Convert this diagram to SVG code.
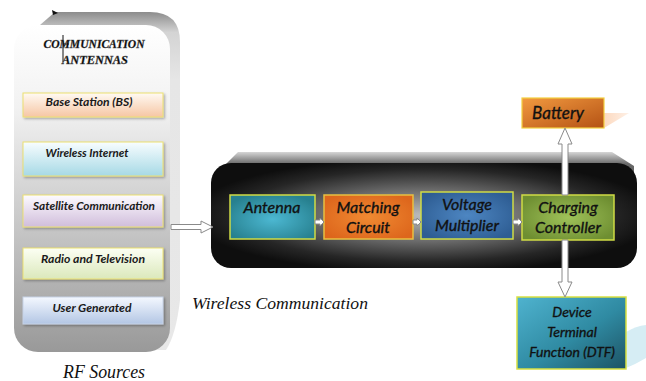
<svg xmlns="http://www.w3.org/2000/svg" width="646" height="381" viewBox="0 0 646 381">
<defs>
  <linearGradient id="panelFront" x1="0" y1="0" x2="0" y2="1">
    <stop offset="0" stop-color="#ffffff"/>
    <stop offset="0.25" stop-color="#f2f2f2"/>
    <stop offset="0.6" stop-color="#c9c9c9"/>
    <stop offset="1" stop-color="#999999"/>
  </linearGradient>
  <linearGradient id="panelBack" x1="0" y1="0" x2="0" y2="1">
    <stop offset="0" stop-color="#8c8c8c"/>
    <stop offset="0.06" stop-color="#d4d4d4"/>
    <stop offset="0.2" stop-color="#e6e6e6"/>
    <stop offset="1" stop-color="#e8e8e8"/>
  </linearGradient>
  <radialGradient id="darkFront" cx="0.5" cy="0.5" r="0.55">
    <stop offset="0" stop-color="#bdbdbd"/>
    <stop offset="0.45" stop-color="#6a6a6a"/>
    <stop offset="0.8" stop-color="#262626"/>
    <stop offset="1" stop-color="#0e0e0e"/>
  </radialGradient>
  <linearGradient id="darkBack" x1="0" y1="0" x2="0" y2="1">
    <stop offset="0" stop-color="#d6d6d6"/>
    <stop offset="0.12" stop-color="#6a6a6a"/>
    <stop offset="1" stop-color="#222"/>
  </linearGradient>
  <linearGradient id="gBS" x1="0" y1="0" x2="0" y2="1">
    <stop offset="0" stop-color="#fffaf3"/><stop offset="1" stop-color="#f6c6a4"/>
  </linearGradient>
  <linearGradient id="gWI" x1="0" y1="0" x2="0" y2="1">
    <stop offset="0" stop-color="#f8fdff"/><stop offset="1" stop-color="#a6d9e5"/>
  </linearGradient>
  <linearGradient id="gSC" x1="0" y1="0" x2="0" y2="1">
    <stop offset="0" stop-color="#fdfbff"/><stop offset="1" stop-color="#d0bddb"/>
  </linearGradient>
  <linearGradient id="gRT" x1="0" y1="0" x2="0" y2="1">
    <stop offset="0" stop-color="#fcfff4"/><stop offset="1" stop-color="#dbe8bb"/>
  </linearGradient>
  <linearGradient id="gUG" x1="0" y1="0" x2="0" y2="1">
    <stop offset="0" stop-color="#f4f8ff"/><stop offset="1" stop-color="#b3c6e4"/>
  </linearGradient>
  <radialGradient id="gAnt" cx="0.5" cy="0.55" r="0.6">
    <stop offset="0" stop-color="#4cb8d2"/><stop offset="1" stop-color="#27808f"/>
  </radialGradient>
  <radialGradient id="gMat" cx="0.5" cy="0.5" r="0.6">
    <stop offset="0" stop-color="#f08a32"/><stop offset="1" stop-color="#dd661c"/>
  </radialGradient>
  <radialGradient id="gVol" cx="0.5" cy="0.5" r="0.6">
    <stop offset="0" stop-color="#4d86c2"/><stop offset="1" stop-color="#2e5d93"/>
  </radialGradient>
  <radialGradient id="gChg" cx="0.5" cy="0.5" r="0.6">
    <stop offset="0" stop-color="#9fc259"/><stop offset="1" stop-color="#6e8e31"/>
  </radialGradient>
  <linearGradient id="gBat" x1="0" y1="0" x2="1" y2="1">
    <stop offset="0" stop-color="#f29a40"/><stop offset="1" stop-color="#b45214"/>
  </linearGradient>
  <linearGradient id="gDTF" x1="0" y1="0" x2="1" y2="1">
    <stop offset="0" stop-color="#4fb3cf"/><stop offset="0.55" stop-color="#2f8aa2"/><stop offset="1" stop-color="#1d5364"/>
  </linearGradient>
  <linearGradient id="gPeach" x1="0" y1="0" x2="1" y2="0">
    <stop offset="0" stop-color="#fcd9bf"/><stop offset="1" stop-color="#fef0e6"/>
  </linearGradient>
  <filter id="sh" x="-10%" y="-10%" width="130%" height="140%">
    <feDropShadow dx="1.5" dy="1.5" stdDeviation="0.8" flood-color="#000" flood-opacity="0.3"/>
  </filter>
</defs>
<style>
  .src { stroke: #ece070; stroke-width: 1; filter: url(#sh); }
  .srcT { font-family: Lato, "Liberation Sans", sans-serif; font-weight: bold; font-style: italic; font-size: 11px; fill: #1a1a1a; text-anchor: middle; }
  .blk { stroke: #cfdc45; stroke-width: 1.5; }
  .blkT { font-family: Lato, "Liberation Sans", sans-serif; font-style: italic; font-size: 16px; fill: #111; stroke: #111; stroke-width: 0.35; text-anchor: middle; }
  .ttl { font-family: "Liberation Serif", serif; font-weight: bold; font-style: italic; font-size: 13px; fill: #000; stroke: #555; stroke-width: 0.4; text-anchor: middle; }
  .arr { fill: #ffffff; stroke: #8a8a8a; stroke-width: 1; }
</style>

<!-- Left panel: RF sources -->
<g id="rf-panel">
  <path d="M40,25 L55,12 L150,12 Q180,12 180,42 L180,300 Q176,335 166,350 L40,350 Z" fill="url(#panelBack)"/>
  <rect x="14" y="25" width="156" height="327" rx="24" fill="url(#panelFront)"/>
  <polygon points="52,10 58,13 53,15" fill="#111"/>
  <line x1="63" y1="35" x2="63" y2="62" stroke="#111" stroke-width="1"/>
  <line x1="63" y1="44" x2="69" y2="44" stroke="#111" stroke-width="1"/>
  <text class="ttl" x="94" y="48" textLength="101" lengthAdjust="spacingAndGlyphs">COMMUNICATION</text>
  <text class="ttl" x="95" y="64" textLength="66" lengthAdjust="spacingAndGlyphs">ANTENNAS</text>
</g>

<g id="base-station">
  <rect class="src" x="23" y="93" width="140" height="24" fill="url(#gBS)"/>
  <text class="srcT" x="89" y="106" textLength="87" lengthAdjust="spacingAndGlyphs">Base Station (BS)</text>
</g>
<g id="wireless-internet">
  <rect class="src" x="23" y="142" width="140" height="34" fill="url(#gWI)"/>
  <text class="srcT" x="87" y="157" textLength="83" lengthAdjust="spacingAndGlyphs">Wireless Internet</text>
</g>
<g id="satellite">
  <rect class="src" x="23" y="195" width="140" height="32" fill="url(#gSC)"/>
  <text class="srcT" x="94" y="210" textLength="122" lengthAdjust="spacingAndGlyphs">Satellite Communication</text>
</g>
<g id="radio-tv">
  <rect class="src" x="23" y="248" width="140" height="31" fill="url(#gRT)"/>
  <text class="srcT" x="93" y="263" textLength="104" lengthAdjust="spacingAndGlyphs">Radio and Television</text>
</g>
<g id="user-generated">
  <rect class="src" x="23" y="297" width="140" height="27" fill="url(#gUG)" style="stroke:#c6d2e6"/>
  <text class="srcT" x="92" y="312" textLength="79" lengthAdjust="spacingAndGlyphs">User Generated</text>
</g>
<text x="63" y="378" font-family="'Liberation Serif', serif" font-style="italic" font-size="18" fill="#111" textLength="82" lengthAdjust="spacingAndGlyphs">RF Sources</text>

<!-- Dark box: wireless communication -->
<g id="wireless-box">
  <path d="M225,165 L238,152 L612,152 L634,166 L634,250 L225,250 Z" fill="url(#darkBack)"/>
  <rect x="211" y="163" width="426" height="105" rx="20" fill="url(#darkFront)"/>
</g>
<text x="192" y="309" font-family="'Liberation Serif', serif" font-style="italic" font-size="17" fill="#111" textLength="176" lengthAdjust="spacingAndGlyphs">Wireless Communication</text>

<!-- decorative pale shapes -->
<polygon points="604,113 629,113 604,128" fill="url(#gPeach)"/>
<path d="M626,332 Q636,326 646,325 L646,358 Q636,364 626,368 Z" fill="#d6edf4"/>

<g id="antenna">
  <rect class="blk" x="230" y="195" width="85" height="44" fill="url(#gAnt)"/>
  <text class="blkT" x="272" y="213">Antenna</text>
</g>
<g id="matching-circuit">
  <rect class="blk" x="324" y="195" width="89" height="44" fill="url(#gMat)" style="stroke:#e8c040"/>
  <text class="blkT" x="368" y="213">Matching</text>
  <text class="blkT" x="368" y="233">Circuit</text>
</g>
<g id="voltage-multiplier">
  <rect class="blk" x="421" y="192" width="92" height="47" fill="url(#gVol)"/>
  <text class="blkT" x="467" y="210">Voltage</text>
  <text class="blkT" x="467" y="231">Multiplier</text>
</g>
<g id="charging-controller">
  <rect class="blk" x="522" y="195" width="92" height="45" fill="url(#gChg)"/>
  <text class="blkT" x="568" y="213">Charging</text>
  <text class="blkT" x="568" y="233">Controller</text>
</g>
<g id="battery">
  <rect x="522" y="98" width="82" height="30" fill="url(#gBat)" stroke="#f4d040" stroke-width="1.2"/>
  <text class="blkT" x="558" y="119" style="font-size:17px">Battery</text>
</g>
<g id="dtf">
  <rect x="517" y="297" width="109" height="72" fill="url(#gDTF)" stroke="#d8e040" stroke-width="1.5"/>
  <text class="blkT" x="572" y="317" style="font-size:14px">Device</text>
  <text class="blkT" x="572" y="337" style="font-size:14px">Terminal</text>
  <text class="blkT" x="572" y="357" style="font-size:14px">Function (DTF)</text>
</g>

<!-- connectors -->
<g id="connectors">
  <path class="arr" d="M171,224.5 L201,224.5 L201,221 L213,227 L201,233 L201,229.5 L171,229.5 Z"/>
  <path class="arr" d="M315,220 L320,220 L320,218 L324,222 L320,226 L320,224 L315,224 Z"/>
  <path class="arr" d="M413,220 L417,220 L417,218 L421,222 L417,226 L417,224 L413,224 Z"/>
  <path class="arr" d="M513,220 L518,220 L518,218 L522,222 L518,226 L518,224 L513,224 Z"/>
  <path class="arr" d="M562,195 L562,144 L558,144 L565,128 L572,144 L568,144 L568,195 Z"/>
  <path class="arr" d="M562,240 L562,282 L558,282 L565,297 L572,282 L568,282 L568,240 Z"/>
</g>
</svg>
